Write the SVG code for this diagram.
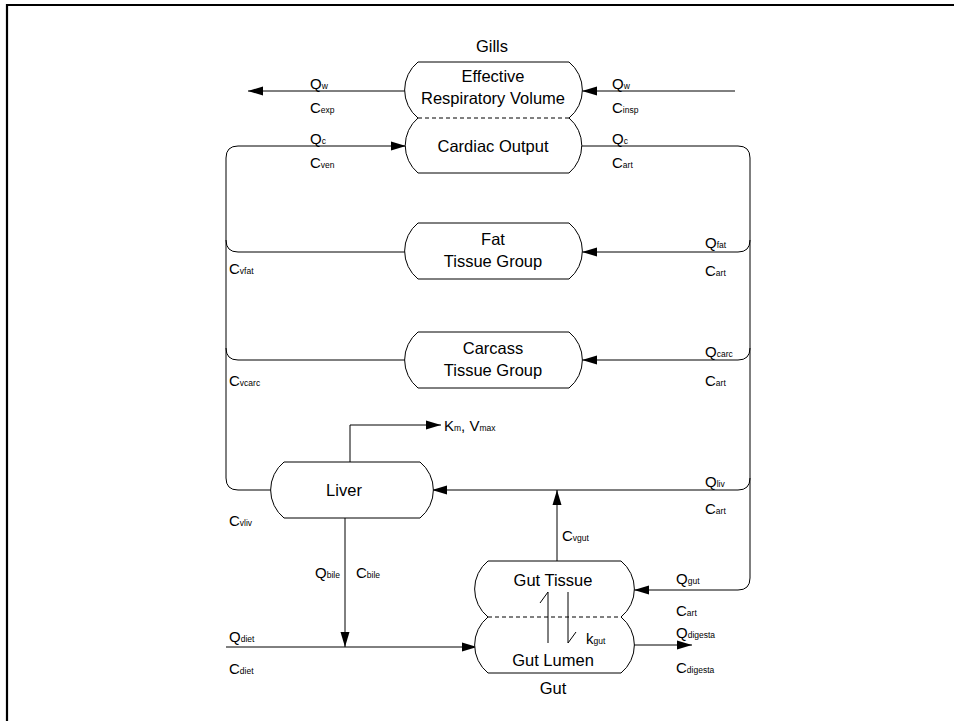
<svg xmlns="http://www.w3.org/2000/svg" width="954" height="721" viewBox="0 0 954 721">
<defs>
<style>
.n{fill:#fff;stroke:#000;stroke-width:1}
.l{fill:none;stroke:#000;stroke-width:1}
.a{marker-end:url(#ah)}
.d{fill:none;stroke:#000;stroke-width:1;stroke-dasharray:4 3}
text{font-family:"Liberation Sans",Arial,sans-serif;fill:#000}
.t{font-size:16.5px;text-anchor:middle}
.q{font-size:15px}
.s{font-size:8.5px}
</style>
<marker id="ah" markerUnits="userSpaceOnUse" markerWidth="16" markerHeight="10" refX="15" refY="5" orient="auto">
<path d="M0,0.5 L15,5 L0,9.5 z" fill="#000"/>
</marker>
</defs>
<rect width="954" height="721" fill="#fff"/>
<path d="M7,721 V5 H954" fill="none" stroke="#000" stroke-width="2.2"/>

<g id="connectors">
<path class="l a" d="M406,91 H248"/>
<path class="l a" d="M735,91 H582"/>
<path class="l a" d="M272,490 H238 Q226,490 226,478 V158 Q226,146 238,146 H406"/>
<path class="l" d="M406,252 H238 Q226,252 226,240"/>
<path class="l" d="M406,360 H238 Q226,360 226,348"/>
<path class="l a" d="M581,146 H738 Q750,146 750,158 V578 Q750,590 738,590 H634"/>
<path class="l a" d="M750,240 Q750,252 738,252 H582"/>
<path class="l a" d="M750,348 Q750,360 738,360 H582"/>
<path class="l a" d="M750,478 Q750,490 738,490 H432"/>
<path class="l a" d="M350,462 V425 H441"/>
<path class="l a" d="M557,561 V490"/>
<path class="l a" d="M345,518 V647"/>
<path class="l a" d="M226,647 H477"/>
<path class="l a" d="M633,645 H692"/>
</g>

<g id="gills">
<path class="n" d="M418,62 H569 A36,36 0 0 1 569,118 A36,36 0 0 1 569,173 H418 A36,36 0 0 1 418,118 A36,36 0 0 1 418,62 Z"/>
<path class="d" d="M418,118 H569"/>
<text class="t" x="492" y="52">Gills</text>
<text class="t" x="493" y="82">Effective</text>
<text class="t" x="493" y="104">Respiratory Volume</text>
<text class="t" x="493" y="152">Cardiac Output</text>
</g>

<g id="fat">
<path class="n" d="M418,223 H569 A36,36 0 0 1 569,279 H418 A36,36 0 0 1 418,223 Z"/>
<text class="t" x="493" y="245">Fat</text>
<text class="t" x="493" y="267">Tissue Group</text>
</g>

<g id="carcass">
<path class="n" d="M418,332 H569 A36,36 0 0 1 569,388 H418 A36,36 0 0 1 418,332 Z"/>
<text class="t" x="493" y="354">Carcass</text>
<text class="t" x="493" y="376">Tissue Group</text>
</g>

<g id="liver">
<path class="n" d="M284,462 H420 A36,36 0 0 1 420,518 H284 A36,36 0 0 1 284,462 Z"/>
<text class="t" x="344" y="496">Liver</text>
</g>

<g id="gut">
<path class="n" d="M488,561 H621 A36,36 0 0 1 621,617 A36,36 0 0 1 621,673 H488 A36,36 0 0 1 488,617 A36,36 0 0 1 488,561 Z"/>
<path class="d" d="M488,617 H621"/>
<text class="t" x="553" y="586">Gut Tissue</text>
<text class="t" x="553" y="666">Gut Lumen</text>
<text class="t" x="553" y="694">Gut</text>
<path class="l" d="M548,643 V592 L540,603"/>
<path class="l" d="M568,592 V643 L576,632"/>
</g>

<g id="labels">
<text class="q" x="310" y="89">Q<tspan class="s">w</tspan></text>
<text class="q" x="310" y="113">C<tspan class="s">exp</tspan></text>
<text class="q" x="612" y="89">Q<tspan class="s">w</tspan></text>
<text class="q" x="612" y="113">C<tspan class="s">insp</tspan></text>
<text class="q" x="310" y="144">Q<tspan class="s">c</tspan></text>
<text class="q" x="310" y="168">C<tspan class="s">ven</tspan></text>
<text class="q" x="612" y="144">Q<tspan class="s">c</tspan></text>
<text class="q" x="612" y="168">C<tspan class="s">art</tspan></text>
<text class="q" x="705" y="248">Q<tspan class="s">fat</tspan></text>
<text class="q" x="705" y="276">C<tspan class="s">art</tspan></text>
<text class="q" x="229" y="274">C<tspan class="s">vfat</tspan></text>
<text class="q" x="705" y="357">Q<tspan class="s">carc</tspan></text>
<text class="q" x="705" y="386">C<tspan class="s">art</tspan></text>
<text class="q" x="229" y="386">C<tspan class="s">vcarc</tspan></text>
<text class="q" x="444" y="431">K<tspan class="s">m</tspan>, V<tspan class="s">max</tspan></text>
<text class="q" x="705" y="487">Q<tspan class="s">liv</tspan></text>
<text class="q" x="705" y="514">C<tspan class="s">art</tspan></text>
<text class="q" x="229" y="526">C<tspan class="s">vliv</tspan></text>
<text class="q" x="562" y="541">C<tspan class="s">vgut</tspan></text>
<text class="q" x="315" y="578">Q<tspan class="s">bile</tspan></text>
<text class="q" x="356" y="578">C<tspan class="s">bile</tspan></text>
<text class="q" x="676" y="584">Q<tspan class="s">gut</tspan></text>
<text class="q" x="676" y="616">C<tspan class="s">art</tspan></text>
<text class="q" x="586" y="644">k<tspan class="s">gut</tspan></text>
<text class="q" x="676" y="638">Q<tspan class="s">digesta</tspan></text>
<text class="q" x="676" y="673">C<tspan class="s">digesta</tspan></text>
<text class="q" x="229" y="642">Q<tspan class="s">diet</tspan></text>
<text class="q" x="229" y="674">C<tspan class="s">diet</tspan></text>
</g>
</svg>
